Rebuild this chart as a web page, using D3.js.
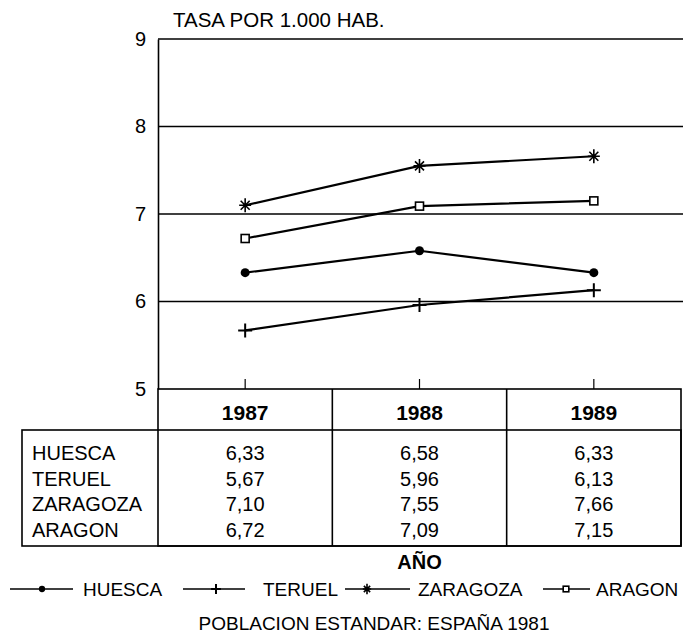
<!DOCTYPE html>
<html>
<head>
<meta charset="utf-8">
<script src="https://cdn.jsdelivr.net/npm/d3@7"></script>
<style>
  body { margin: 0; background: #fff; }
  svg text { font-family: "Liberation Sans", Arial, sans-serif; fill: #000; }
</style>
</head>
<body>
<svg id="chart" width="683" height="637"></svg>
<script>
const years = ['1987', '1988', '1989']
const regions = ['HUESCA', 'TERUEL', 'ZARAGOZA', 'ARAGON']
const huesca = [6.33, 6.58, 6.33]
const teruel = [5.67, 5.96, 6.13]
const zaragoza = [7.10, 7.55, 7.66]
const aragon = [6.72, 7.09, 7.15]
const yTicks = [5, 6, 7, 8, 9]
const markers = ['dot', 'plus', 'star', 'square']

const series = regions.map((r, i) => ({
    name: r,
    marker: markers[i],
    values: [huesca, teruel, zaragoza, aragon][i]
}))

const svg = d3.select('#chart')
const plotLeft = 158, plotRight = 681, plotTop = 39, plotBottom = 389

const x = d3.scaleBand().domain(years).range([plotLeft, plotRight])
const y = d3.scaleLinear().domain([5, 9]).range([plotBottom, plotTop])
const cx = d => x(d) + x.bandwidth() / 2

// title
svg.append('text').attr('x', 173).attr('y', 27)
    .style('font-size', '20.5px').text('TASA POR 1.000 HAB.')

// gridlines
svg.append('g').selectAll('line')
    .data(yTicks.filter(t => t > 5))
    .enter().append('line')
    .attr('x1', plotLeft).attr('x2', 683)
    .attr('y1', d => y(d)).attr('y2', d => y(d))
    .attr('stroke', '#000').attr('stroke-width', 1.4)

// y axis
const yAxis = svg.append('g')
    .attr('transform', `translate(${plotLeft},0)`)
    .call(d3.axisLeft(y).tickValues(yTicks).tickSize(0).tickPadding(12).tickFormat(d3.format('d')))
yAxis.select('.domain').attr('stroke-width', 1.6)
yAxis.selectAll('text').style('font-size', '20px').style('font-family', '"Liberation Sans", Arial, sans-serif')

// ticks at category centers
svg.append('g').selectAll('line')
    .data(years).enter().append('line')
    .attr('x1', cx).attr('x2', cx)
    .attr('y1', plotBottom - 10).attr('y2', plotBottom)
    .attr('stroke', '#000').attr('stroke-width', 1.2)

// lines
const line = d3.line().x((d, i) => cx(years[i])).y(d => y(d))
svg.append('g').selectAll('path')
    .data(series).enter().append('path')
    .attr('d', d => line(d.values))
    .attr('fill', 'none').attr('stroke', '#000').attr('stroke-width', 2.2)

function drawMarker(g, type, px, py, s) {
    s = s || 1
    if (type === 'dot') {
        g.append('circle').attr('cx', px).attr('cy', py).attr('r', 4.5 * s).attr('fill', '#000')
    } else if (type === 'plus') {
        g.append('path').attr('d', `M${px - 7 * s},${py}H${px + 7 * s}M${px},${py - 7 * s}V${py + 7 * s}`)
            .attr('stroke', '#000').attr('stroke-width', 2)
    } else if (type === 'star') {
        const a = 6 * s, b = 4.5 * s
        g.append('path').attr('d', `M${px - a},${py}H${px + a}M${px},${py - a - 1}V${py + a + 1}M${px - b},${py - b}L${px + b},${py + b}M${px - b},${py + b}L${px + b},${py - b}`)
            .attr('stroke', '#000').attr('stroke-width', 1.6)
    } else {
        g.append('rect').attr('x', px - 4 * s).attr('y', py - 4 * s).attr('width', 8 * s).attr('height', 8 * s)
            .attr('fill', '#fff').attr('stroke', '#000').attr('stroke-width', 1.6)
    }
}

const mk = svg.append('g')
series.forEach(s => {
    s.values.forEach((v, i) => drawMarker(mk, s.marker, cx(years[i]), y(v)))
})

// table
const headTop = plotBottom, headBottom = 430, tableBottom = 546, tableLeft = 22
const tb = svg.append('g').attr('stroke', '#000').attr('stroke-width', 1.6).attr('fill', 'none')
tb.append('rect').attr('x', plotLeft).attr('y', headTop).attr('width', plotRight - plotLeft).attr('height', tableBottom - headTop)
tb.append('rect').attr('x', tableLeft).attr('y', headBottom).attr('width', plotRight - tableLeft).attr('height', tableBottom - headBottom)
years.slice(1).forEach(yr => {
    tb.append('line').attr('x1', x(yr)).attr('x2', x(yr)).attr('y1', headTop).attr('y2', tableBottom)
})

svg.append('g').selectAll('text')
    .data(years).enter().append('text')
    .attr('x', cx).attr('y', 420).attr('text-anchor', 'middle')
    .style('font-size', '21px').style('font-weight', 'bold').text(d => d)

const rowY = d3.scalePoint().domain(regions).range([460, 537])
const fmt = v => d3.format('.2f')(v).replace('.', ',')
series.forEach(s => {
    svg.append('text').attr('x', 32).attr('y', rowY(s.name))
        .style('font-size', '20px').text(s.name)
    s.values.forEach((v, i) => {
        svg.append('text').attr('x', cx(years[i])).attr('y', rowY(s.name))
            .attr('text-anchor', 'middle').style('font-size', '20px').text(fmt(v))
    })
})

// x label
svg.append('text').attr('x', cx('1988')).attr('y', 569).attr('text-anchor', 'middle')
    .style('font-size', '20px').style('font-weight', 'bold').text('AÑO')

// legend
const legend = [
    { x1: 10, x2: 73, m: 42, tx: 83 },
    { x1: 183, x2: 245, m: 216, tx: 263 },
    { x1: 345, x2: 410, m: 367, tx: 418 },
    { x1: 543, x2: 590, m: 566, tx: 596 }
]
const lg = svg.append('g')
series.forEach((s, i) => {
    const L = legend[i]
    lg.append('line').attr('x1', L.x1).attr('x2', L.x2).attr('y1', 589).attr('y2', 589)
        .attr('stroke', '#000').attr('stroke-width', 1.5)
    drawMarker(lg, s.marker, L.m, 589, 0.7)
    lg.append('text').attr('x', L.tx).attr('y', 596).style('font-size', '19px').text(s.name)
})

svg.append('text').attr('x', 374).attr('y', 630).attr('text-anchor', 'middle')
    .style('font-size', '19px').text('POBLACION ESTANDAR: ESPAÑA 1981')
</script>
</body>
</html>
